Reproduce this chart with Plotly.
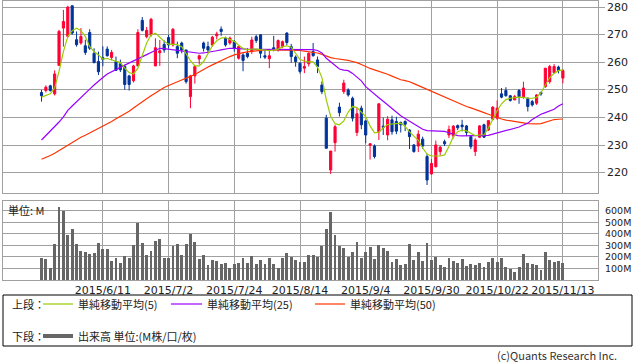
import plotly.graph_objects as go

# ---------------- data ----------------
tick_idx = [14, 29, 44, 59, 74, 89, 104, 119]
tick_dates = ["2015/6/11", "2015/7/2", "2015/7/24", "2015/8/14",
              "2015/9/4", "2015/9/30", "2015/10/22", "2015/11/13"]

open_ = [249.1, 249.8, 251.5, 248.6, 258.9, 272.4, 269.4, 280.5, 268.2, 267.0,
         266.0, 270.8, 263.3, 260.3, 261.7, 264.8, 261.8, 260.3, 259.5, 258.5,
         255.1, 253.3, 258.7, 275.2, 269.3, 269.9, 258.7, 263.5, 266.5, 269.0,
         266.3, 265.7, 267.0, 264.5, 247.6, 255.1, 261.2, 267.0, 265.7, 266.3,
         269.6, 272.0, 268.7, 267.0, 267.5, 261.5, 262.7, 263.3, 264.0, 269.3,
         270.0, 262.4, 261.3, 265.3, 264.5, 265.7, 270.6, 265.7, 261.9, 259.7,
         257.9, 259.5, 263.9, 260.9, 251.8, 239.8, 221.0, 230.9, 243.8, 249.4,
         250.0, 247.0, 234.6, 243.4, 238.8, 230.0, 229.7, 234.9, 236.9, 233.7,
         239.2, 238.6, 238.2, 238.6, 235.5, 230.1, 229.7, 232.2, 225.9, 219.6,
         222.2, 227.7, 231.3, 233.7, 233.3, 237.1, 237.3, 237.0, 233.1, 227.7,
         232.9, 237.4, 235.5, 239.4, 239.8, 248.6, 249.8, 247.9, 246.4, 249.8,
         247.4, 247.0, 245.8, 245.2, 249.1, 251.2, 253.0, 256.3, 258.3, 254.3]
high = [250.0, 251.7, 251.9, 257.1, 271.8, 279.0, 280.5, 280.6, 271.2, 272.4,
        268.2, 272.0, 265.1, 263.9, 265.8, 265.8, 264.5, 262.1, 261.0, 259.1,
        255.5, 259.1, 272.0, 276.4, 272.8, 276.1, 268.7, 268.1, 268.0, 270.0,
        272.4, 267.5, 267.5, 264.5, 255.5, 258.5, 262.8, 267.5, 267.5, 269.6,
        271.1, 273.0, 269.3, 269.3, 268.1, 265.9, 263.3, 265.1, 269.3, 270.0,
        270.0, 264.5, 264.5, 269.6, 268.3, 267.9, 270.9, 266.7, 262.5, 260.0,
        262.1, 263.6, 267.0, 262.1, 253.1, 241.0, 227.9, 237.4, 245.4, 253.7,
        250.6, 247.6, 243.5, 244.3, 239.1, 230.8, 230.3, 245.0, 240.0, 240.5,
        240.7, 240.3, 238.6, 239.0, 235.8, 230.4, 235.4, 233.1, 226.9, 225.0,
        231.7, 229.7, 232.0, 237.1, 237.3, 237.5, 239.2, 237.3, 233.7, 232.5,
        237.3, 237.8, 239.1, 244.1, 246.2, 250.7, 251.0, 248.2, 248.2, 250.3,
        253.0, 247.3, 246.4, 248.5, 249.4, 257.9, 259.1, 259.4, 258.8, 257.6]
low = [245.8, 249.1, 249.4, 248.0, 258.9, 265.7, 269.0, 270.0, 265.7, 266.4,
       262.7, 264.5, 259.7, 255.4, 258.6, 262.1, 260.8, 257.0, 256.5, 250.1,
       249.8, 252.7, 258.7, 271.2, 268.7, 269.3, 258.7, 258.7, 263.5, 265.0,
       265.7, 261.5, 263.3, 252.3, 243.4, 252.3, 259.2, 263.9, 263.3, 265.7,
       268.3, 269.6, 265.7, 266.4, 263.9, 261.0, 256.8, 261.5, 263.0, 267.0,
       261.5, 261.2, 257.9, 264.0, 263.9, 265.1, 266.3, 259.9, 258.4, 255.9,
       256.1, 258.5, 262.1, 256.1, 248.5, 228.9, 219.6, 227.7, 240.4, 248.6,
       247.6, 238.6, 233.3, 235.8, 230.7, 224.8, 225.2, 231.9, 233.7, 231.8,
       233.8, 234.0, 234.6, 235.1, 228.6, 227.3, 227.5, 228.6, 215.6, 219.3,
       222.0, 226.3, 229.7, 232.6, 232.5, 235.5, 235.0, 233.3, 228.6, 226.1,
       232.6, 232.6, 235.2, 239.2, 239.2, 247.0, 247.6, 245.8, 246.4, 245.0,
       246.8, 242.2, 244.0, 244.6, 247.9, 250.8, 252.3, 256.0, 256.0, 252.4]
close = [247.9, 251.0, 249.8, 255.8, 271.2, 274.8, 280.0, 270.6, 266.4, 269.4,
         263.6, 265.1, 259.9, 256.6, 261.1, 262.4, 263.6, 257.1, 257.3, 252.0,
         252.0, 258.7, 270.8, 271.6, 271.6, 275.6, 265.3, 264.2, 264.5, 266.3,
         272.0, 263.3, 264.5, 253.0, 255.1, 258.5, 262.4, 265.1, 264.5, 269.1,
         270.3, 271.2, 266.3, 268.8, 265.1, 265.7, 260.7, 262.1, 268.1, 267.9,
         263.3, 261.9, 262.4, 264.8, 267.9, 267.5, 267.2, 262.1, 260.3, 256.7,
         258.5, 263.3, 262.4, 258.5, 249.4, 228.9, 227.9, 236.7, 241.8, 252.5,
         248.2, 239.8, 241.4, 237.4, 233.7, 230.5, 225.9, 245.0, 236.5, 239.4,
         234.9, 235.1, 237.4, 237.6, 233.1, 227.7, 234.0, 229.7, 217.4, 223.4,
         230.1, 229.3, 230.5, 235.7, 236.9, 236.3, 236.7, 234.6, 229.5, 231.9,
         237.0, 232.9, 238.9, 243.8, 243.4, 247.4, 247.9, 246.2, 247.6, 247.6,
         250.7, 244.0, 244.6, 248.2, 248.6, 257.9, 258.5, 258.5, 257.0, 257.0]

ma5 = [247.4, 247.9, 248.6, 250.7, 256.7, 263.9, 269.4, 271.5, 272.4, 271.5,
       269.4, 265.7, 263.9, 262.7, 261.2, 261.4, 260.9, 260.3, 259.9, 257.9,
       256.3, 255.8, 257.9, 262.5, 267.0, 269.9, 270.6, 269.1, 267.6, 266.6,
       266.5, 266.4, 265.7, 263.0, 260.6, 258.7, 258.7, 260.3, 263.3, 266.0,
       267.8, 268.8, 269.0, 268.4, 267.6, 266.2, 265.0, 264.5, 264.8, 264.8,
       264.6, 264.5, 264.3, 264.4, 264.8, 265.6, 266.0, 265.5, 263.3, 261.0,
       260.5, 260.2, 260.2, 258.3, 254.5, 246.4, 240.5, 237.8, 237.4, 238.8,
       242.0, 244.0, 243.6, 242.0, 240.4, 237.0, 234.5, 234.7, 236.3, 237.5,
       237.7, 237.8, 238.0, 236.8, 234.8, 233.3, 231.8, 229.0, 226.8, 226.1,
       226.1, 226.1, 226.5, 229.5, 233.1, 234.9, 235.5, 235.2, 234.3, 233.5,
       233.7, 233.8, 236.2, 239.5, 242.5, 245.0, 246.5, 247.0, 247.2, 247.4,
       247.3, 247.0, 247.0, 247.3, 249.0, 251.8, 254.5, 256.0, 257.0, 257.3]
ma25 = [231.9, 233.5, 235.2, 236.9, 238.4, 240.3, 242.6, 244.2, 245.8, 247.4,
        248.9, 250.3, 251.8, 253.3, 254.5, 255.8, 256.7, 257.4, 258.2, 259.0,
        259.7, 260.5, 261.3, 262.0, 262.8, 263.6, 264.4, 265.1, 265.0, 264.8,
        264.7, 264.5, 264.3, 264.0, 263.7, 263.5, 263.3, 263.4, 263.6, 263.9,
        264.2, 264.5, 264.8, 265.1, 265.1, 265.1, 264.9, 264.7, 264.7, 264.7,
        264.7, 264.7, 264.7, 264.7, 264.7, 264.7, 264.7, 264.7, 264.7, 264.7,
        264.7, 264.7, 264.6, 264.3, 263.4, 261.5, 260.2, 258.8, 257.6, 257.2,
        257.0, 256.0, 254.7, 253.3, 251.2, 249.8, 248.3, 247.2, 245.9, 244.6,
        243.3, 241.9, 240.7, 239.7, 238.7, 237.6, 236.6, 235.8, 235.3, 235.2,
        235.2, 235.2, 235.0, 234.5, 233.9, 233.5, 233.4, 233.4, 233.4, 233.4,
        233.4, 233.4, 233.6, 234.0, 234.4, 234.8, 235.3, 235.8, 236.2, 236.6,
        237.3, 238.0, 239.3, 240.3, 241.2, 241.8, 242.3, 243.0, 244.2, 245.0]
ma50 = [224.9, 225.5, 226.3, 227.1, 228.1, 229.2, 230.2, 231.2, 232.1, 232.9,
        233.6, 234.4, 235.1, 235.9, 236.7, 237.5, 238.6, 239.6, 240.4, 241.3,
        242.3, 243.5, 244.7, 245.8, 246.8, 247.9, 249.0, 250.0, 250.9, 251.6,
        252.2, 252.8, 253.6, 254.3, 254.9, 255.6, 256.5, 257.5, 258.3, 259.1,
        259.9, 260.7, 261.4, 262.1, 262.7, 263.2, 263.5, 263.8, 264.0, 264.2,
        264.4, 264.5, 264.5, 264.5, 264.5, 264.5, 264.5, 264.5, 264.4, 264.3,
        264.1, 263.9, 263.7, 263.4, 262.9, 262.2, 261.7, 261.4, 261.2, 261.0,
        260.7, 260.3, 259.9, 259.2, 258.4, 257.8, 257.3, 256.8, 256.3, 255.7,
        255.0, 254.3, 253.7, 253.4, 253.0, 252.3, 251.6, 250.9, 250.2, 249.5,
        248.9, 248.2, 247.5, 246.8, 246.0, 245.2, 244.6, 244.0, 243.5, 243.0,
        242.4, 241.8, 241.2, 240.6, 240.0, 239.5, 239.1, 238.9, 238.6, 238.3,
        238.1, 237.8, 237.7, 237.7, 237.8, 238.3, 238.9, 239.3, 239.4, 239.5]

volume_m = [192, 181, 101, 310, 632, 598, 388, 440, 310, 250,
            241, 224, 233, 319, 267, 267, 164, 190, 149, 207,
            193, 302, 494, 322, 216, 250, 336, 353, 193, 193,
            293, 310, 216, 310, 400, 325, 181, 216, 129, 172,
            164, 138, 147, 103, 138, 147, 193, 147, 207, 138,
            172, 138, 193, 138, 103, 190, 233, 198, 172, 155,
            155, 213, 216, 195, 293, 437, 586, 388, 293, 273,
            195, 241, 325, 190, 241, 282, 181, 302, 276, 250,
            155, 181, 129, 138, 310, 172, 241, 164, 319, 172,
            198, 129, 112, 190, 164, 147, 181, 121, 138, 129,
            147, 112, 155, 190, 155, 190, 112, 95, 69, 109,
            224, 147, 138, 129, 86, 241, 172, 155, 164, 147]

price_ticks = [220, 230, 240, 250, 260, 270, 280]
vol_ticks = [100, 200, 300, 400, 500, 600]
vol_tick_text = ["100M", "200M", "300M", "400M", "500M", "600M"]

legend_top = ["単純移動平均(5)", "単純移動平均(25)", "単純移動平均(50)"]

# ---------------- styling ----------------
W, H = 638, 362
RED = "#FF0033"
BLUE = "#003399"
C5, C25, C50 = "#99CC00", "#9900FF", "#FF3300"
GRID = "#A0A0A0"
NUM_FONT = "DejaVu Sans"
JP_FONT = "Noto Sans CJK JP"
TXT = "#222222"

def fx(px):
    return px / W

def fy(py):
    return 1 - py / H

x = list(range(len(close)))

fig = go.Figure()
fig.add_trace(go.Candlestick(
    x=x, open=open_, high=high, low=low, close=close,
    increasing=dict(line=dict(color=RED, width=1), fillcolor=RED),
    decreasing=dict(line=dict(color=BLUE, width=1), fillcolor=BLUE),
    whiskerwidth=0, showlegend=False, xaxis="x", yaxis="y"))
for vals, col in ((ma50, C50), (ma25, C25), (ma5, C5)):
    fig.add_trace(go.Scatter(x=x, y=vals, mode="lines",
                             line=dict(color=col, width=1.2),
                             showlegend=False, xaxis="x", yaxis="y"))
fig.add_trace(go.Bar(x=x, y=volume_m, marker=dict(color="#666666", line=dict(width=0)),
                     width=0.66, showlegend=False, xaxis="x2", yaxis="y2"))

xr = [-8.79, 127.02]
dom_x = [fx(3), fx(598)]
common_x = dict(range=xr, domain=dom_x, tickvals=tick_idx, showgrid=True,
                gridcolor=GRID, gridwidth=1, showline=True, linecolor=GRID,
                linewidth=1, mirror=True, zeroline=False, fixedrange=True)

fig.update_layout(
    width=W, height=H, margin=dict(l=0, r=0, t=0, b=0),
    paper_bgcolor="white", plot_bgcolor="white",
    xaxis=dict(**common_x, anchor="y", showticklabels=False,
               rangeslider=dict(visible=False)),
    yaxis=dict(domain=[fy(193), fy(0.5)], range=[212.7, 282.4], side="right",
               tickvals=price_ticks, showticklabels=False, showgrid=True,
               gridcolor=GRID, showline=True, linecolor=GRID, mirror=True,
               zeroline=False, ticks="outside", ticklen=6, tickcolor=GRID,
               anchor="x", fixedrange=True),
    xaxis2=dict(**common_x, anchor="y2", ticktext=tick_dates, ticks="",
                tickfont=dict(family=NUM_FONT, size=11, color=TXT)),
    yaxis2=dict(domain=[fy(280), fy(201)], range=[0, 683], side="right",
                tickvals=vol_ticks, showticklabels=False, showgrid=True,
                gridcolor=GRID, showline=True, linecolor=GRID, mirror=True,
                zeroline=False, ticks="", anchor="x2", fixedrange=True),
    bargap=0,
    showlegend=False,
    hovermode=False,
)

# axis value labels placed at their axis values
for v in price_ticks:
    fig.add_annotation(text=str(v), xref="paper", yref="y", x=fx(606), y=v,
                       xanchor="left", yanchor="middle", showarrow=False,
                       font=dict(family=NUM_FONT, size=11, color=TXT), borderpad=0)
for v, t in zip(vol_ticks, vol_tick_text):
    fig.add_annotation(text=t, xref="paper", yref="y2", x=fx(604), y=v,
                       xanchor="left", yanchor="middle", showarrow=False,
                       font=dict(family=NUM_FONT, size=9.5, color=TXT), borderpad=0)

shapes = [dict(type="rect", xref="paper", yref="paper",
               x0=fx(3), x1=fx(632), y0=fy(346), y1=fy(295),
               line=dict(color="black", width=1), fillcolor="rgba(0,0,0,0)")]
for (x0, x1, col) in ((43, 73, C5), (171, 202, C25), (315, 345, C50)):
    shapes.append(dict(type="line", xref="paper", yref="paper",
                       x0=fx(x0), x1=fx(x1), y0=fy(304), y1=fy(304),
                       line=dict(color=col, width=1.2)))
shapes.append(dict(type="line", xref="paper", yref="paper",
                   x0=fx(43), x1=fx(73), y0=fy(336), y1=fy(336),
                   line=dict(color="#666666", width=4)))
fig.update_layout(shapes=shapes)

def note(text, px, py, anchor="left", size=11, family=JP_FONT, color=TXT):
    fig.add_annotation(text=text, xref="paper", yref="paper", x=fx(px), y=fy(py),
                       xanchor=anchor, yanchor="middle", showarrow=False,
                       font=dict(family=family, size=size, color=color), borderpad=0)

note("上段：", 11, 304)
note(legend_top[0], 77, 304)
note(legend_top[1], 206, 304)
note(legend_top[2], 349, 304)
note("下段：", 11, 336)
note("出来高 単位:(M株/口/枚)", 77, 336)
note("単位: M", 7, 210)
note("(c)Quants Research Inc.", 618, 355, anchor="right", color="#333333")

fig.write_html("out.html", config={"displayModeBar": False, "staticPlot": True},
               post_script="document.body.style.margin='0';document.body.style.padding='0';")
